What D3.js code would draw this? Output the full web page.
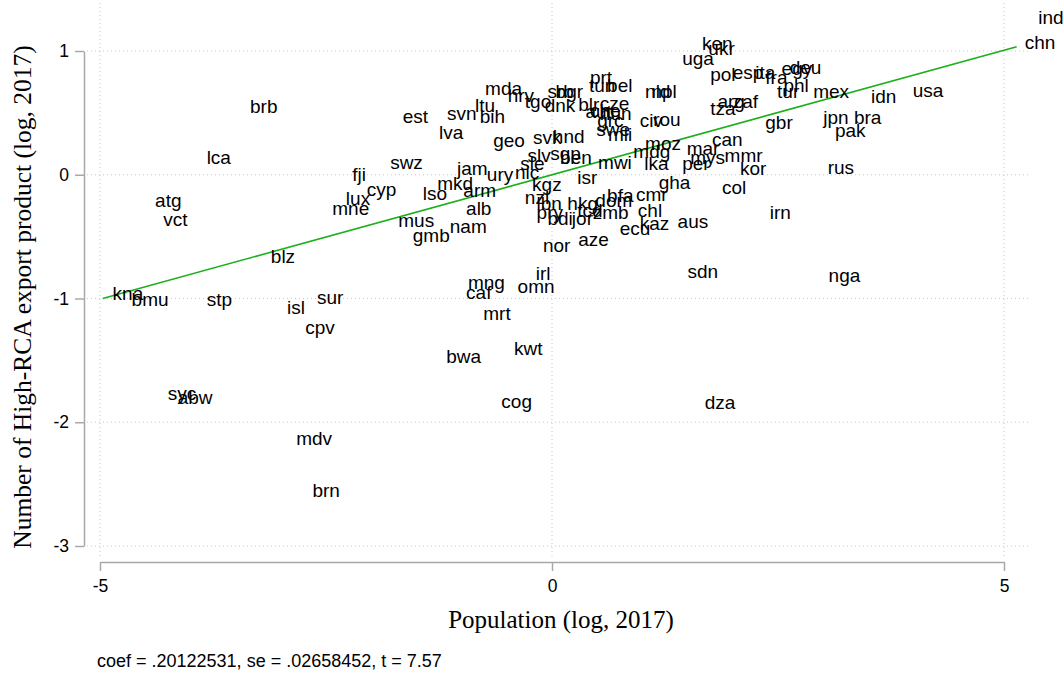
<!DOCTYPE html>
<html>
<head>
<meta charset="utf-8">
<script src="https://cdn.jsdelivr.net/npm/d3@7"></script>
<style>
  body { margin: 0; background: #fff; }
  svg { display: block; }
</style>
</head>
<body>
<svg id="chart" width="1063" height="677"></svg>
<script>
// country codes, log population (centered) and log number of high-RCA products (centered)
const codes = [
  'ind','chn','usa','idn','mex','jpn','bra','pak','rus','nga','irn','gbr','tur','phl','egy','deu',
  'fra','ita','esp','pol','uga','ken','ukr','tza','arg','zaf','can','mar','mys','mmr','kor','per',
  'col','gha','lka','mdg','moz','aus','kaz','ecu','chl','cmr','bfa','mwi','sdn','dza','civ','rou',
  'nld','npl','prt','tun','bel','cze','blr','aut','che','hun','grc','swe','mli','srb','bgr','dnk',
  'tgo','hnd','svk','geo','hrv','mda','ltu','bih','svn','est','lva','brb','lca','atg','vct','blz',
  'kna','bmu','stp','isl','sur','cpv','syc','abw','mdv','brn','fji','cyp','lux','mne','swz','jam',
  'ury','lso','mkd','arm','alb','mus','gmb','nam','slv','sgp','ben','sle','nic','kgz','isr','nzl',
  'lbn','hkg','dom','pry','bdi','jor','tcd','zmb','nor','aze','mng','caf','irl','omn','mrt','bwa',
  'kwt','cog'
];
const popLog = [
  5.28, 5.13, 3.89, 3.43, 2.79, 2.90, 3.24, 3.03, 2.95, 2.96, 2.31, 2.26, 2.39, 2.46, 2.44, 2.53,
  2.26, 2.15, 1.90, 1.65, 1.34, 1.56, 1.63, 1.65, 1.73, 1.90, 1.67, 1.39, 1.43, 1.81, 1.98, 1.34,
  1.78, 1.08, 0.92, 0.80, 0.93, 1.29, 0.87, 0.65, 0.85, 0.83, 0.51, 0.41, 1.40, 1.59, 0.87, 1.02,
  0.93, 1.00, 0.32, 0.31, 0.51, 0.43, 0.19, 0.27, 0.32, 0.43, 0.40, 0.39, 0.52, -0.15, -0.06, -0.18,
  -0.40, -0.09, -0.31, -0.75, -0.59, -0.84, -0.95, -0.90, -1.26, -1.75, -1.35, -3.44, -3.92, -4.49, -4.40, -3.21,
  -4.96, -4.75, -3.92, -3.03, -2.70, -2.83, -4.35, -4.24, -2.93, -2.75, -2.31, -2.15, -2.38, -2.53, -1.89, -1.15,
  -0.82, -1.53, -1.37, -1.08, -1.05, -1.80, -1.64, -1.23, -0.37, -0.12, -0.01, -0.45, -0.51, -0.32, 0.18, -0.40,
  -0.27, 0.07, 0.38, -0.27, -0.15, 0.12, 0.18, 0.35, -0.20, 0.19, -1.03, -1.05, -0.28, -0.48, -0.86, -1.27,
  -0.52, -0.66
];
const rcaLog = [
  1.27, 1.07, 0.68, 0.63, 0.675, 0.46, 0.46, 0.36, 0.06, -0.81, -0.30, 0.42, 0.67, 0.72, 0.86, 0.87,
  0.79, 0.83, 0.83, 0.81, 0.94, 1.06, 1.02, 0.54, 0.59, 0.59, 0.29, 0.21, 0.14, 0.16, 0.05, 0.09,
  -0.10, -0.06, 0.09, 0.19, 0.25, -0.38, -0.39, -0.43, -0.29, -0.16, -0.17, 0.10, -0.78, -1.84, 0.44, 0.45,
  0.67, 0.67, 0.79, 0.72, 0.72, 0.58, 0.57, 0.51, 0.52, 0.50, 0.44, 0.37, 0.33, 0.675, 0.675, 0.56,
  0.59, 0.31, 0.30, 0.28, 0.64, 0.70, 0.56, 0.47, 0.50, 0.47, 0.34, 0.55, 0.14, -0.21, -0.36, -0.66,
  -0.96, -1.01, -1.01, -1.07, -0.99, -1.23, -1.77, -1.80, -2.13, -2.55, 0.00, -0.12, -0.19, -0.27, 0.10, 0.05,
  0.00, -0.15, -0.07, -0.13, -0.27, -0.37, -0.49, -0.42, 0.16, 0.17, 0.14, 0.09, 0.02, -0.08, -0.02, -0.18,
  -0.23, -0.23, -0.21, -0.30, -0.35, -0.35, -0.29, -0.30, -0.57, -0.52, -0.87, -0.95, -0.80, -0.90, -1.12, -1.47,
  -1.40, -1.83
];

// linear fit shown in green
const fitSlope = 0.20122531;
const fitIntercept = 0.0;
const fitRange = [-4.97, 5.14];

const xTicks = [-5, 0, 5];
const yTicks = [1, 0, -1, -2, -3];

const xTitle = 'Population (log, 2017)';
const yTitle = 'Number of High-RCA export product (log, 2017)';
const note = 'coef = .20122531, se = .02658452, t = 7.57';

const data = codes.map((c, i) => ({ code: c, x: popLog[i], y: rcaLog[i] }));

const svg = d3.select('#chart');
const sans = "'Liberation Sans', Arial, Helvetica, sans-serif";
const serif = "'Liberation Serif', 'Times New Roman', serif";

const x = d3.scaleLinear().domain([-5, 5]).range([100, 1004]);
const y = d3.scaleLinear().domain([-3, 1]).range([546, 51]);

// dotted grid
const grid = svg.append('g')
    .attr('stroke', '#c8c8c8')
    .attr('stroke-width', 1)
    .attr('stroke-dasharray', '1,3');
grid.selectAll('.gx').data(xTicks).join('line')
    .attr('x1', d => x(d)).attr('x2', d => x(d))
    .attr('y1', 3).attr('y2', 557);
grid.selectAll('.gy').data(yTicks).join('line')
    .attr('x1', 87).attr('x2', 1030)
    .attr('y1', d => y(d)).attr('y2', d => y(d));

// axes, plain hyphen minus like the original
const fmt = d => String(d);
const axisY = svg.append('g')
    .attr('transform', 'translate(84,0)')
    .call(d3.axisLeft(y).tickValues(yTicks).tickFormat(fmt).tickSize(9).tickSizeOuter(0).tickPadding(6));
const axisX = svg.append('g')
    .attr('transform', 'translate(0,562)')
    .call(d3.axisBottom(x).tickValues(xTicks).tickFormat(fmt).tickSize(9).tickSizeOuter(0).tickPadding(9));

[axisY, axisX].forEach(g => {
    g.select('.domain').attr('stroke', '#a8a8a8').attr('stroke-width', 1.5);
    g.selectAll('.tick line').attr('stroke', '#a8a8a8').attr('stroke-width', 1.5);
    g.selectAll('.tick text')
        .attr('fill', '#000')
        .style('font-family', sans)
        .style('font-size', '17.5px');
});

// fitted line
svg.append('path')
    .datum(fitRange)
    .attr('fill', 'none')
    .attr('stroke', '#1bb01b')
    .attr('stroke-width', 1.6)
    .attr('d', d3.line()
        .x(d => x(d))
        .y(d => y(fitIntercept + fitSlope * d)));

// country labels (no markers, label at 3 o'clock)
svg.append('g')
    .selectAll('text')
    .data(data)
    .join('text')
    .attr('x', d => x(d.x) + 9)
    .attr('y', d => y(d.y))
    .attr('dy', '0.35em')
    .style('font-family', sans)
    .style('font-size', '19px')
    .attr('fill', '#000')
    .text(d => d.code);

// titles
svg.append('text')
    .attr('x', 561).attr('y', 628)
    .attr('text-anchor', 'middle')
    .style('font-family', serif)
    .style('font-size', '25px')
    .text(xTitle);

svg.append('text')
    .attr('transform', 'translate(31,297) rotate(-90)')
    .attr('text-anchor', 'middle')
    .style('font-family', serif)
    .style('font-size', '25.5px')
    .text(yTitle);

svg.append('text')
    .attr('x', 97).attr('y', 667)
    .style('font-family', sans)
    .style('font-size', '18px')
    .text(note);
</script>
</body>
</html>
